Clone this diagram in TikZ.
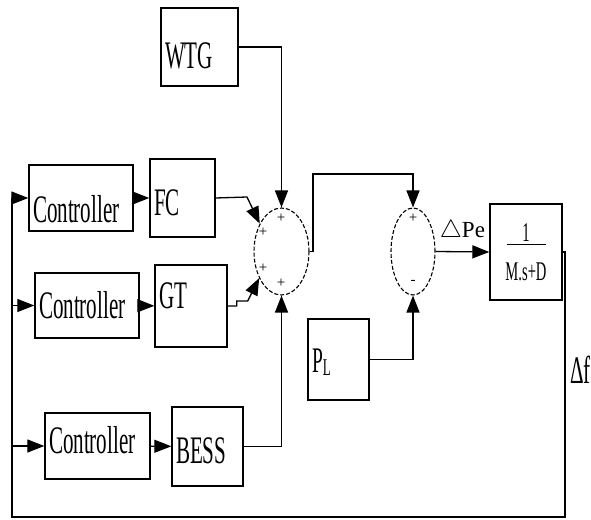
\documentclass[tikz,border=0pt]{standalone}
\usepackage{fontspec}
\setmainfont{Liberation Serif}
\usepackage{graphicx}
\usetikzlibrary{arrows.meta}
\usetikzlibrary{shapes.geometric}
\newcommand{\narrow}[1]{\scalebox{0.54}[1]{#1}}
\newcommand{\shiftup}[2]{\raisebox{#1}[\height][\depth]{#2}}
\tikzset{
  blk/.style = {draw, line width=1.4pt, inner sep=4pt, align=left,
    font=\fontsize{39}{39}\selectfont},% bloc
  sumnode/.style = {ellipse, draw, dash pattern=on 4pt off 2pt,
    line width=1.1pt, inner sep=0pt},% sommateur
  sgn/.style = {inner sep=0pt, font=\fontsize{15}{15}\selectfont}% signe
}

\begin{document}
\begin{tikzpicture}[x=1pt,y=-1pt,line width=1.3pt,
  >={Triangle[length=17pt,width=13pt]}]
\useasboundingbox (0,0) rectangle (591,519);

% blocs
\node [blk, text width=69pt, minimum height=78pt] (wtg) at (199.5,47) {\shiftup{-9pt}{\narrow{WTG}}};
\node [blk, text width=96pt, minimum height=66pt] (ctrlA) at (81,198) {\shiftup{-11pt}{\narrow{Controller}}};
\node [blk, text width=57pt, minimum height=78pt] (fc) at (182.5,198) {\shiftup{-5pt}{\narrow{FC}}};
\node [blk, text width=96pt, minimum height=65pt] (ctrlB) at (87,305.5) {\narrow{Controller}};
\node [blk, text width=64pt, minimum height=82pt] (gt) at (191,306) {\shiftup{10pt}{\narrow{GT}}};
\node [blk, text width=97pt, minimum height=66pt] (ctrlC) at (97.5,446) {\shiftup{6pt}{\narrow{Controller}}};
\node [blk, text width=63pt, minimum height=79pt] (bess) at (207.5,446.5) {\shiftup{-4pt}{\narrow{BESS}}};
\node [blk, text width=53pt, minimum height=81pt, font=\fontsize{36}{36}\selectfont] (pl) at (338.5,359.5)
  {\shiftup{-3pt}{\narrow{P\raisebox{-3pt}{\fontsize{24}{24}\selectfont L}}}};
\node [blk, text width=64pt, minimum height=96pt, align=center, font=\fontsize{27}{30}\selectfont] (plant) at (526,252)
  {\narrow{1}\\[-26pt]\rule{39pt}{1pt}\\[5pt]\narrow{M.s+D}};

% sommateurs
\node [sumnode, minimum width=55pt, minimum height=87pt] (sumA) at (281.5,251.5) {};
\node [sumnode, minimum width=44pt, minimum height=87pt] (sumB) at (413,251.5) {};
\node [sgn] (sA1) at (281,218) {+};
\node [sgn] (sA2) at (263,232) {+};
\node [sgn] (sA3) at (263,268) {+};
\node [sgn] (sA4) at (281,283) {+};
\node [sgn] (sB1) at (413,218) {+};
\node [sgn] (sB2) at (413,282) {-};

\coordinate (jog) at (313,174);
\coordinate (fcbend) at (247,197);
\coordinate (fbR) at (565,517);
\coordinate (fbL) at (12,517);

% liaisons
\draw[->] (wtg.east) -| (sumA.north);
\draw[->] (ctrlA) -- (fc);
\draw[->] (ctrlB) -- (gt);
\draw[->] (ctrlC) -- (bess);
\draw[->] (fc.east) -- (fcbend) -- (sumA.128);
\draw[->] (gt.east) -- ++(9,0) -- ++(0,-5) -- ++(11,0) -- (sumA.230);
\draw[->] (bess.east) -| (sumA.south);
\draw[->] (sumA.east) -| (jog) -| (sumB.north);
\draw[->] (pl.east) -| (sumB.south);
\draw[->] (sumB.east) -- node[above=9pt, inner sep=0pt, font=\fontsize{23}{23}\selectfont] (dpe) {$\triangle$Pe} (plant.west);
\draw[->] (plant.east) -| (fbR) -- (fbL) |- (ctrlA.west);
\draw[->] (fbL |- ctrlB.west) -- (ctrlB.west);
\draw[->] (fbL |- ctrlC.west) -- (ctrlC.west);
\node [anchor=west, inner sep=0pt, font=\fontsize{39}{39}\selectfont] (df) at (569.5,370) {\narrow{Δf}};
\end{tikzpicture}
\end{document}
